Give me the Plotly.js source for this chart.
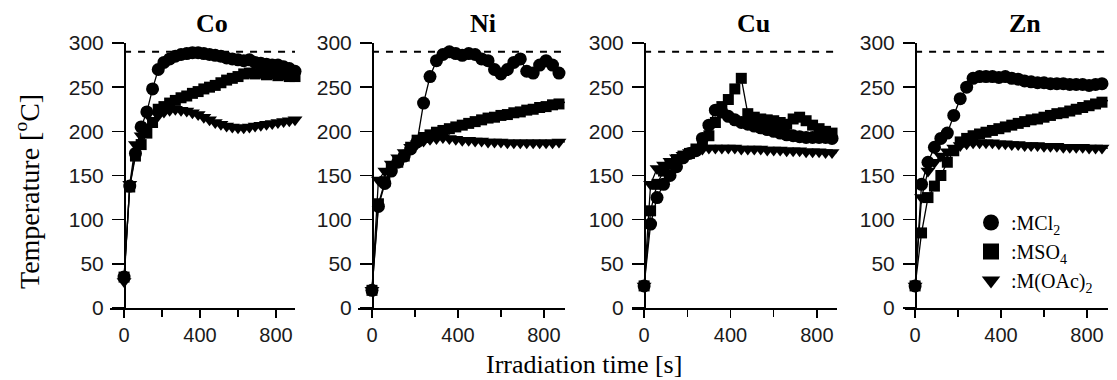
<!DOCTYPE html>
<html>
<head>
<meta charset="utf-8">
<script src="https://cdn.plot.ly/plotly-3.0.1.min.js"></script>
<style>html,body{margin:0;padding:0;background:#fff;}#chart{width:1117px;height:380px;}</style>
</head>
<body>
<div id="chart"></div>
<script>
// Irradiation time [s]
const times = [0,30,60,90,120,150,180,210,240,270,300,330,360,390,420,450,480,510,540,570,600,630,660,690,720,750,780,810,840,870,900];

const panelNames = ['Co','Ni','Cu','Zn'];
const seriesNames = [':MCl<sub>2</sub>', ':MSO<sub>4</sub>', ':M(OAc)<sub>2</sub>'];
const dashedLevel = 290;
const yTickVals = [0,50,100,150,200,250,300];
const xTickVals = [0,400,800];
const xTickText = ['0','400','800'];
const xMinorTickVals = [200,600];

// Co
const coMCl2  = [35,138,175,205,222,248,270,278,282,285,287,288,289,289,288,287,286,285,283,282,281,280,281,278,277,276,275,275,273,271,268];
const coMSO4  = [35,137,172,185,198,210,225,228,232,235,238,240,243,245,248,250,252,255,258,260,262,265,266,265,266,264,265,263,264,262,262];
const coMOAc2 = [30,140,185,195,205,212,218,222,224,225,224,223,221,219,216,213,210,208,206,205,204,204,205,206,207,208,209,210,211,212,213];
// Ni
const niMCl2  = [20,115,141,155,165,172,180,188,232,262,280,287,290,288,286,288,287,282,280,270,265,270,278,282,268,266,275,280,275,266,264];
const niMSO4  = [20,118,143,158,165,172,182,190,193,196,199,201,203,205,207,209,211,213,215,216,218,219,221,222,224,225,227,228,230,231,233];
const niMOAc2 = [20,145,155,163,170,176,182,186,189,191,192,193,192,191,190,190,189,189,188,188,188,187,187,187,187,187,187,187,187,188,188];
// Cu
const cuMCl2  = [25,95,125,140,150,160,170,175,178,192,207,224,222,217,213,210,208,206,204,202,200,198,196,195,194,193,193,193,193,192,192];
const cuMSO4  = [25,110,140,155,163,168,172,175,180,185,195,210,228,236,248,260,220,216,214,213,212,210,208,214,216,212,207,203,200,198,196];
const cuMOAc2 = [25,140,158,162,166,170,173,176,178,180,181,181,181,181,181,180,180,180,180,179,179,179,178,178,178,177,177,177,176,176,176];
// Zn
const znMCl2  = [25,140,165,182,192,198,218,237,250,260,262,262,262,261,262,260,259,257,256,255,255,254,254,254,253,253,253,252,253,254,254];
const znMSO4  = [25,85,125,138,150,165,178,188,192,195,197,199,201,203,205,207,209,211,213,214,216,218,220,221,223,225,227,229,231,233,235];
const znMOAc2 = [25,125,155,165,172,177,181,184,186,187,187,187,187,186,186,185,185,184,184,184,183,183,183,182,182,182,182,181,181,181,181];

const panelData = [
  [coMCl2, coMSO4, coMOAc2],
  [niMCl2, niMSO4, niMOAc2],
  [cuMCl2, cuMSO4, cuMOAc2],
  [znMCl2, znMSO4, znMOAc2]
];

const W = 1117, H = 380;
const panels = [
  {l:110, r:295, y0:124, range:[-74,900]},
  {l:358, r:565, y0:372, range:[-65,898]},
  {l:632, r:837, y0:644, range:[-56,893]},
  {l:905, r:1108, y0:915, range:[-47,898]}
];
const yBottomPx = 308, yTopPx = 43;

const symbols = ['circle','square','triangle-down'];
const sizes = [13,11,13];

const traces = [];
panelData.forEach((set, p) => {
  const sfx = p === 0 ? '' : String(p+1);
  set.forEach((vals, s) => {
    traces.push({
      x: times, y: vals, xaxis: 'x'+sfx, yaxis: 'y'+sfx,
      type: 'scatter', mode: 'lines+markers', showlegend: false,
      cliponaxis: false,
      line: {color: '#000', width: 1.3},
      marker: {symbol: symbols[s], size: sizes[s], color: '#000'}
    });
  });
});
seriesNames.forEach((nm, s) => {
  traces.push({
    x: [null], y: [null], xaxis: 'x4', yaxis: 'y4', type: 'scatter', mode: 'markers',
    name: nm, showlegend: true,
    marker: {symbol: symbols[s], size: 16, color: '#000'}
  });
});

const yTickFont = {family: 'Liberation Sans, Arial, sans-serif', size: 21, color: '#1a1a1a'};
const xTickFont = {family: 'Liberation Sans, Arial, sans-serif', size: 20, color: '#1a1a1a'};
const layout = {
  width: W, height: H,
  margin: {l:0, r:0, t:0, b:0},
  paper_bgcolor: '#fff', plot_bgcolor: 'rgba(0,0,0,0)',
  showlegend: true,
  legend: {
    x: 971/W, y: (H-203)/H, xanchor: 'left', yanchor: 'top',
    bgcolor: 'rgba(0,0,0,0)', borderwidth: 0,
    font: {family: 'Liberation Serif, Times New Roman, serif', size: 20, color: '#000'},
    tracegroupgap: 0, itemwidth: 30
  },
  shapes: [], annotations: []
};

panels.forEach((pn, p) => {
  const sfx = p === 0 ? '' : String(p+1);
  layout['xaxis'+sfx] = {
    domain: [pn.l/W, pn.r/W], range: pn.range, anchor: 'y'+sfx,
    showline: true, linecolor: '#000', linewidth: 1.5,
    ticks: 'outside', ticklen: 8, tickwidth: 1.5, tickcolor: '#000',
    tickvals: xTickVals, ticktext: xTickText,
    minor: {tickvals: xMinorTickVals, ticks: 'outside', ticklen: 7, tickwidth: 1.5, tickcolor: '#000', showgrid: false},
    showgrid: false, zeroline: false, tickfont: xTickFont, fixedrange: true,
    ticklabelstandoff: 0
  };
  layout['yaxis'+sfx] = {
    domain: [(H-yBottomPx)/H, (H-yTopPx)/H], range: [0,300],
    anchor: 'free', position: pn.y0/W,
    showline: true, linecolor: '#000', linewidth: 1.5,
    ticks: 'outside', ticklen: 12, tickwidth: 1.5, tickcolor: '#000',
    tickvals: yTickVals,
    showgrid: false, zeroline: false, tickfont: yTickFont, fixedrange: true,
    ticklabelstandoff: 4
  };
  layout.shapes.push({
    type: 'line', xref: 'x'+sfx, yref: 'y'+sfx,
    x0: 0, x1: pn.range[1], y0: dashedLevel, y1: dashedLevel,
    line: {color: '#000', width: 2, dash: '7px,7px'}
  });
  layout.annotations.push({
    text: '<b>'+panelNames[p]+'</b>', xref: 'paper', yref: 'paper',
    x: [212,483,753,1025][p]/W, y: (H-24)/H, xanchor: 'center', yanchor: 'middle',
    showarrow: false,
    font: {family: 'Liberation Serif, Times New Roman, serif', size: 26, color: '#000'}
  });
});

layout.annotations.push({
  text: 'Temperature [<sup>o</sup>C]', xref: 'paper', yref: 'paper',
  x: 27/W, y: (H-192)/H, xanchor: 'center', yanchor: 'middle', textangle: -90,
  showarrow: false,
  font: {family: 'Liberation Serif, Times New Roman, serif', size: 28, color: '#000'}
});
layout.annotations.push({
  text: 'Irradiation time [s]', xref: 'paper', yref: 'paper',
  x: 584/W, y: 0, xanchor: 'center', yanchor: 'bottom', borderpad: 0,
  showarrow: false,
  font: {family: 'Liberation Serif, Times New Roman, serif', size: 26, color: '#000'}
});

Plotly.newPlot('chart', traces, layout, {displayModeBar: false, staticPlot: true});
</script>
</body>
</html>
